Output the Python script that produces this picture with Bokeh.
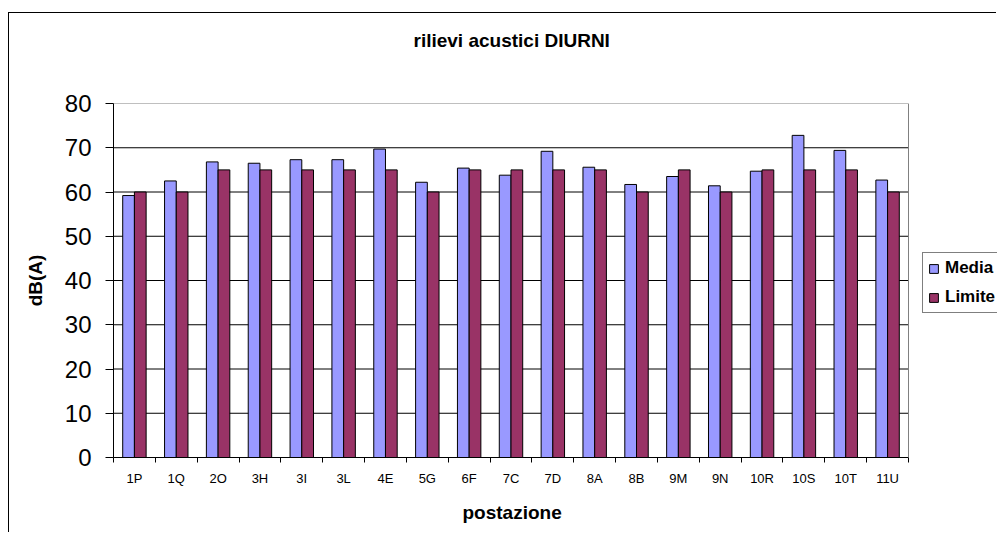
from bokeh.plotting import figure
from bokeh.models import (Range1d, FixedTicker, Legend, LegendItem, ColumnDataSource,
                          Title, Span)
from bokeh.embed import file_html
from bokeh.resources import INLINE
from bokeh.transform import dodge

categories = ["1P", "1Q", "2O", "3H", "3I", "3L", "4E", "5G", "6F", "7C",
              "7D", "8A", "8B", "9M", "9N", "10R", "10S", "10T", "11U"]
media = [59.2, 62.5, 66.8, 66.5, 67.3, 67.3, 69.7, 62.2, 65.4, 63.8,
         69.2, 65.6, 61.7, 63.5, 61.4, 64.7, 72.8, 69.4, 62.7]
limite = [60, 60, 65, 65, 65, 65, 65, 60, 65, 65,
          65, 65, 60, 65, 60, 65, 65, 65, 60]
y_ticks = [0, 10, 20, 30, 40, 50, 60, 70, 80]

FONT = "Liberation Sans"
n = len(categories)
pos = [i + 0.5 for i in range(n)]
bounds = list(range(n + 1))
src = ColumnDataSource(dict(x=pos, media=media, limite=limite, cat=categories))

W, H = 988, 520
LEFT, TOP, BOTTOM = 104, 90, 76
PLOT_W = 795                       # width of the bar area in pixels
frame_w = W - LEFT
x_end = n * frame_w / PLOT_W       # frame extends under the legend

p = figure(width=W, height=H,
           x_range=Range1d(0, x_end), y_range=Range1d(0, 80),
           output_backend="svg", toolbar_location=None,
           min_border_left=LEFT, min_border_right=0,
           min_border_top=TOP, min_border_bottom=BOTTOM)
p.styles = {"border-left": "1px solid black", "border-top": "1px solid black",
            "position": "relative", "top": "12px", "left": "8px"}
p.background_fill_color = "white"
p.border_fill_color = "white"
p.outline_line_color = None

# horizontal grid lines limited to the plot area (0 .. n)
grid_y = y_ticks[1:-1]
p.segment(x0=[0] * len(grid_y), x1=[n] * len(grid_y), y0=grid_y, y1=grid_y,
          line_color="black", line_width=1, level="underlay")
p.segment(x0=[0], x1=[n], y0=[y_ticks[-1]], y1=[y_ticks[-1]],
          line_color="#808080", line_width=1, level="underlay")
p.add_layout(Span(location=n, dimension="height", line_color="#808080", line_width=1))

r1 = p.vbar(x=dodge("x", -0.14), top="media", width=0.28, source=src,
            fill_color="#9999FF", line_color="black", line_width=1)
r2 = p.vbar(x=dodge("x", 0.14), top="limite", width=0.28, source=src,
            fill_color="#993366", line_color="black", line_width=1)

# spacer title (pushes the real title upwards), then the real title
p.add_layout(Title(text=" ", text_font_size="2px", standoff=44), "above")
p.add_layout(Title(text="rilievi acustici DIURNI", align="left", offset=300,
                   text_font=FONT, text_font_size="19px", text_font_style="bold",
                   text_color="black", standoff=10), "above")

xa = p.xaxis[0]
xa.bounds = (0, n)
xa.ticker = FixedTicker(ticks=pos, minor_ticks=bounds)
xa.major_label_overrides = {x: c for x, c in zip(pos, categories)}
xa.major_tick_out = 0
xa.major_tick_in = 0
xa.minor_tick_out = 5
xa.minor_tick_in = 0
xa.minor_tick_line_color = "black"
xa.axis_line_color = "black"
xa.major_label_text_font = FONT
xa.major_label_text_font_size = "13px"
xa.major_label_text_color = "black"
xa.major_label_standoff = 8

# x axis title, centred under the bars (not under the whole frame)
p.add_layout(Title(text="postazione", align="left", offset=349,
                   text_font=FONT, text_font_size="19px", text_font_style="bold",
                   text_color="black", standoff=22), "below")

ya = p.yaxis[0]
ya.ticker = FixedTicker(ticks=y_ticks)
ya.major_tick_out = 8
ya.major_tick_in = 0
ya.minor_tick_line_color = None
ya.axis_line_color = "black"
ya.major_tick_line_color = "black"
ya.major_label_text_font = FONT
ya.major_label_text_font_size = "24px"
ya.major_label_text_color = "black"
ya.major_label_standoff = 14
ya.axis_label = "dB(A)"
ya.axis_label_text_font = FONT
ya.axis_label_text_font_size = "19px"
ya.axis_label_text_font_style = "bold"
ya.axis_label_text_color = "black"
ya.axis_label_standoff = 16

p.xgrid.visible = False
p.ygrid.visible = False

legend = Legend(items=[LegendItem(label="Media", renderers=[r1]),
                       LegendItem(label="Limite", renderers=[r2])],
                location=(809, 144))
legend.border_line_color = "black"
legend.border_line_width = 1
legend.background_fill_color = "white"
legend.background_fill_alpha = 1
legend.label_text_font = FONT
legend.label_text_font_size = "17px"
legend.label_text_font_style = "bold"
legend.label_text_color = "black"
legend.glyph_width = 11
legend.glyph_height = 11
legend.label_standoff = 6
legend.label_height = 18
legend.padding = 5
legend.spacing = 9
legend.margin = 0
p.add_layout(legend)

open("out.html", "w").write(file_html(p, INLINE))
